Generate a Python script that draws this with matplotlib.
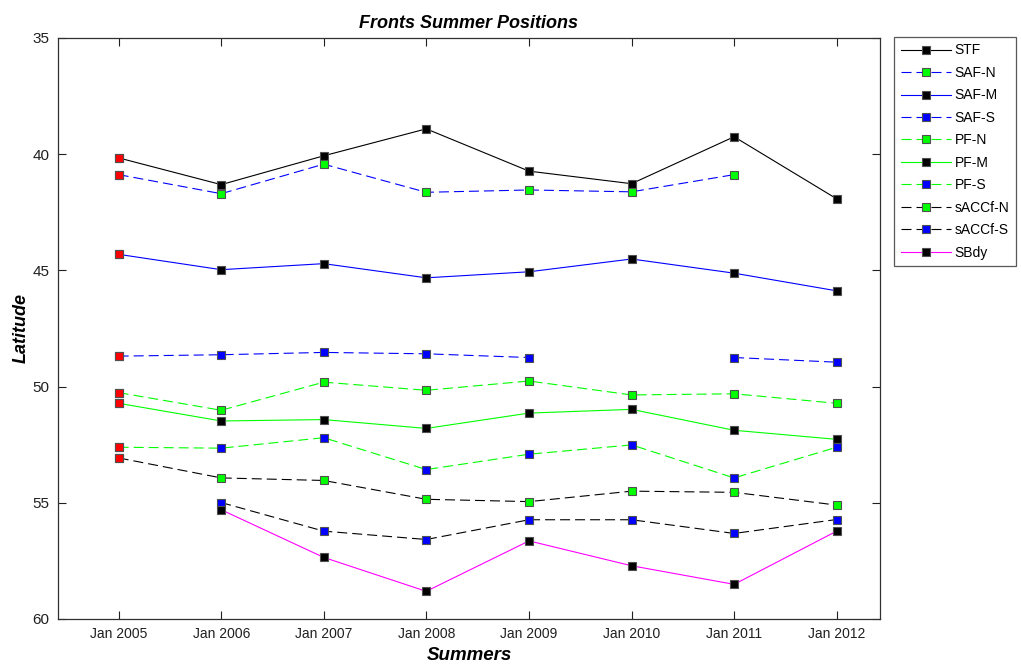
import numpy as np
import matplotlib
matplotlib.use("Agg")
import matplotlib.pyplot as plt
import matplotlib.dates as mdates
from datetime import datetime

plt.rcParams["font.family"] = ["Liberation Sans", "DejaVu Sans"]

# ------------ Data -------------
years = [2005, 2006, 2007, 2008, 2009, 2010, 2011, 2012]
nan = np.nan

stf      = [40.16, 41.31, 40.07, 38.91, 40.73, 41.27, 39.25, 41.92]
saf_n    = [40.88, 41.70, 40.43, 41.64, 41.54, 41.62, 40.88, nan]
saf_m    = [44.31, 44.97, 44.71, 45.32, 45.06, 44.51, 45.12, 45.88]
saf_s    = [48.69, 48.63, 48.53, 48.59, 48.75, nan, 48.75, 48.95]
pf_n     = [50.26, 51.02, 49.81, 50.16, 49.76, 50.36, 50.31, 50.72]
pf_m     = [50.72, 51.48, 51.42, 51.80, 51.14, 50.98, 51.88, 52.27]
pf_s     = [52.61, 52.65, 52.20, 53.57, 52.91, 52.51, 53.93, 52.61]
saccf_n  = [53.07, 53.93, 54.04, 54.85, 54.95, 54.50, 54.55, 55.10]
saccf_s  = [nan, 54.99, 56.22, 56.58, 55.73, 55.73, 56.32, 55.72]
sbdy     = [nan, 55.30, 57.35, 58.81, 56.64, 57.71, 58.51, 56.22]

names = ["STF", "SAF-N", "SAF-M", "SAF-S", "PF-N", "PF-M", "PF-S",
         "sACCf-N", "sACCf-S", "SBdy"]
series = [stf, saf_n, saf_m, saf_s, pf_n, pf_m, pf_s, saccf_n, saccf_s, sbdy]
line_colors = ["black", "blue", "blue", "blue", "#00ff00", "#00ff00", "#00ff00",
               "black", "black", "magenta"]
dashed = [False, True, False, True, True, False, True, True, True, False]
face_colors = ["black", "#00ff00", "black", "blue", "#00ff00", "black", "blue",
               "#00ff00", "blue", "black"]

dates = [datetime(y, 1, 1) for y in years]

# ------------ Plot -------------
fig = plt.figure(figsize=(10.21, 6.64), dpi=100)
ax = fig.add_axes([0.0568, 0.0678, 0.805, 0.875])

for vals, name, lc, ds, fc in zip(series, names, line_colors, dashed, face_colors):
    ls = (0, (9, 4.5)) if ds else "-"
    ax.plot(dates, vals, linestyle=ls, color=lc, lw=0.8, marker="s",
            markersize=6.2, markerfacecolor=fc, markeredgecolor="#505050",
            markeredgewidth=0.8, label=name)

# first summer gets a red marker
for vals in series:
    if not np.isnan(vals[0]):
        ax.plot(dates[0], vals[0], linestyle="none", marker="s", markersize=6.2,
                markerfacecolor="red", markeredgecolor="#505050",
                markeredgewidth=0.8)

ax.set_ylim(60, 35)
ax.set_yticks([35, 40, 45, 50, 55, 60])
ax.set_xlim(mdates.date2num(datetime(2004, 5, 30)),
            mdates.date2num(datetime(2012, 6, 3)))
ax.set_xticks(dates)
ax.xaxis.set_major_formatter(mdates.DateFormatter("Jan %Y"))

ax.tick_params(direction="in", top=True, right=True, length=6, width=0.8,
               colors="#202020", pad=6)
ax.tick_params(axis="x", labelsize=10)
ax.tick_params(axis="y", labelsize=11)
for sp in ax.spines.values():
    sp.set_linewidth(0.9)
    sp.set_color("#303030")

ax.set_title("Fronts Summer Positions", fontsize=13, fontweight="bold",
             fontstyle="italic", pad=7)
ax.set_xlabel("Summers", fontsize=13.5, fontweight="bold", fontstyle="italic",
              labelpad=4)
ax.set_ylabel("Latitude", fontsize=13, fontweight="bold", fontstyle="italic",
              labelpad=2)

leg = fig.legend(*ax.get_legend_handles_labels(), loc="upper left",
                 bbox_to_anchor=(0.876, 0.944), fontsize=10, frameon=True,
                 fancybox=False, edgecolor="#303030", handlelength=3.6,
                 labelspacing=0.61, borderpad=0.45, handletextpad=0.3,
                 borderaxespad=0)
leg.get_frame().set_linewidth(0.9)

fig.savefig("out.png", dpi=100)
